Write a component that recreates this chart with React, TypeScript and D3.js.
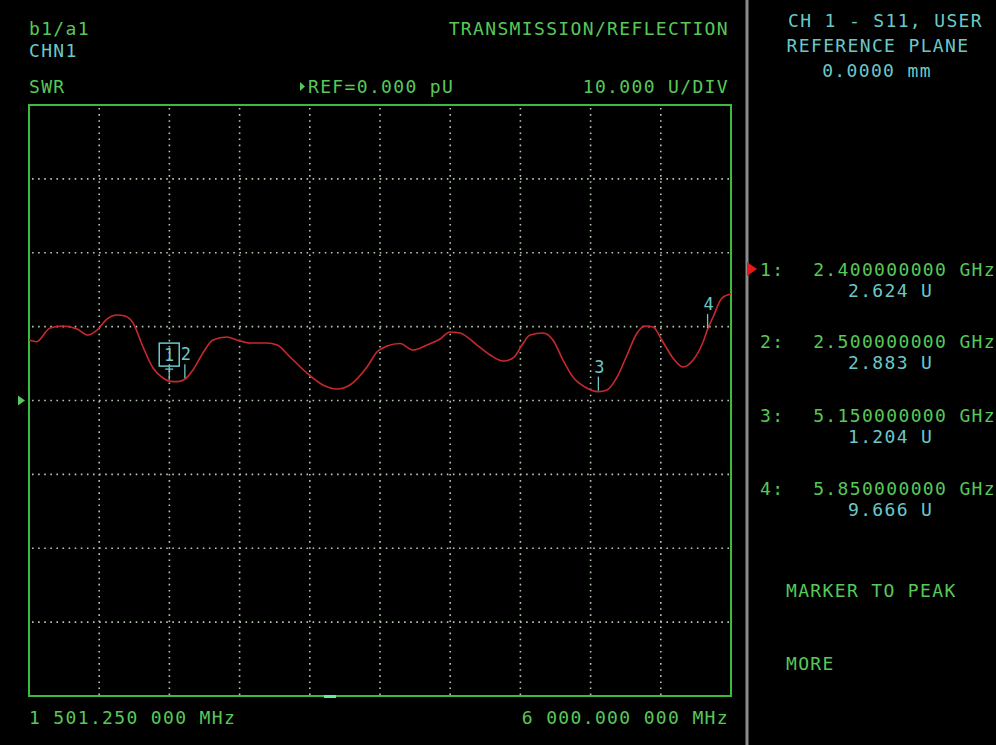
import React from "react";
import * as d3 from "d3";

// ---- data ----
const freqMHz = [
  1501.25, 1550, 1636, 1719, 1809, 1879, 1937, 2001, 2065, 2116, 2168, 2232, 2296, 2360, 2400, 2450, 2500,
  2552, 2616, 2680, 2770, 2834, 2918, 3026, 3091, 3174, 3283, 3385, 3475, 3558, 3667, 3731, 3795, 3879,
  3962, 4052, 4135, 4199, 4263, 4372, 4456, 4539, 4603, 4661, 4712, 4795, 4859, 4923, 4987, 5064, 5150,
  5206, 5270, 5334, 5398, 5449, 5500, 5564, 5628, 5692, 5757, 5821, 5850, 5885, 5942, 6000,
];
const swrU = [
  8.19, 7.96, 9.81, 10.08, 9.68, 8.86, 9.54, 11.03, 11.57, 11.43, 10.49, 7.24, 4.4, 3.05, 2.624, 2.55, 2.883,
  4.13, 6.43, 8.19, 8.59, 8.19, 7.78, 7.78, 7.51, 5.89, 3.72, 2.1, 1.56, 2.1, 4.53, 6.56, 7.37, 7.71,
  6.83, 7.51, 8.32, 9.27, 9.13, 7.51, 6.16, 5.35, 5.75, 7.51, 8.86, 9.13, 8.19, 5.48, 3.18, 1.83, 1.204,
  1.42, 3.18, 6.16, 9.13, 10.08, 9.95, 7.92, 5.75, 4.53, 5.48, 7.92, 9.666, 11.3, 13.87, 14.41,
];
const markerIds = ["1", "2", "3", "4"];
const markerFreqMHz = [2400, 2500, 5150, 5850];
const markerValues = [2.624, 2.883, 1.204, 9.666];
const markerFreqLabels = ["2.400000000 GHz", "2.500000000 GHz", "5.150000000 GHz", "5.850000000 GHz"];
const markerValueLabels = ["2.624 U", "2.883 U", "1.204 U", "9.666 U"];
const startFreqMHz = 1501.25;
const stopFreqMHz = 6000;
const startLabel = "1 501.250 000 MHz";
const stopLabel = "6 000.000 000 MHz";
const refValue = 0;
const unitsPerDiv = 10;
const xDivisions = 10;
const yDivisions = 8;

const GREEN = "#58c858";
const CYAN = "#6cc8c8";
const FRAME = "#3cbc3c";
const RED = "#c8282c";
const DOT = "#b4c8b0";
const FONT = "'DejaVu Sans Mono', monospace";

export default function App() {
  const L = 29, R = 731, T = 105, B = 696;
  const x = d3.scaleLinear().domain([startFreqMHz, stopFreqMHz]).range([L, R]);
  const half = (yDivisions / 2) * unitsPerDiv;
  const y = d3.scaleLinear().domain([refValue - half, refValue + half]).range([B, T]);
  const xDiv = d3.scaleLinear().domain([0, xDivisions]).range([L, R]);
  const yTicks = d3.range(refValue - half + unitsPerDiv, refValue + half, unitsPerDiv);
  const xGrid = d3.range(1, xDivisions).map((i) => xDiv(i));

  const pts = freqMHz.map((f, i) => [f, swrU[i]] as [number, number]);
  const line = d3
    .line<[number, number]>()
    .x((d) => x(d[0]))
    .y((d) => y(d[1]))
    .curve(d3.curveMonotoneX);

  const txt = (s: string, tx: number, ty: number, fill: string, anchor: string = "start", size = 18) => (
    <text x={tx} y={ty} fill={fill} fontFamily={FONT} fontSize={size} textAnchor={anchor} letterSpacing={1.35}>
      {s}
    </text>
  );

  const ry = y(refValue);
  const rowY = [276, 348, 422, 495];

  return (
    <div style={{ position: "absolute", left: 0, top: 0 }}>
      <svg width={996} height={745} style={{ display: "block", background: "#000" }}>
        <rect x={0} y={0} width={996} height={745} fill="#000" />
        <defs>
          <clipPath id="plotclip">
            <rect x={L} y={T} width={R - L} height={B - T} />
          </clipPath>
        </defs>
        {/* grid */}
        {xGrid.map((gx, i) => (
          <line key={"gx" + i} x1={gx} x2={gx} y1={T + 3} y2={B - 1} stroke={DOT} strokeWidth={1.6} strokeDasharray="1.6 4.5" />
        ))}
        {yTicks.map((v, i) => (
          <line key={"gy" + i} x1={L + 3} x2={R - 1} y1={y(v)} y2={y(v)} stroke={DOT} strokeWidth={1.6} strokeDasharray="1.6 4.5" />
        ))}
        {/* frame */}
        <rect x={L} y={T} width={R - L} height={B - T} fill="none" stroke={FRAME} strokeWidth={2} />
        <rect x={324} y={B - 1} width={12} height={3} fill="#5ef0a0" />
        {/* reference marker */}
        <path d={`M18,${ry - 5} L25,${ry} L18,${ry + 5} Z`} fill={GREEN} />
        {/* trace */}
        <path d={line(pts) || ""} fill="none" stroke={RED} strokeWidth={1.6} clipPath="url(#plotclip)" />
        {/* markers */}
        {markerFreqMHz.map((f, i) => {
          const mx = x(f);
          const my = y(markerValues[i]);
          if (i === 0) {
            return (
              <g key={"m" + i}>
                <rect x={mx - 10} y={my - 38} width={20} height={23} fill="none" stroke={CYAN} strokeWidth={1.5} />
                <text x={mx} y={my - 20} fill={CYAN} fontFamily={FONT} fontSize={17} textAnchor="middle">{markerIds[i]}</text>
                <line x1={mx - 4} x2={mx + 4} y1={my - 12} y2={my - 12} stroke={CYAN} strokeWidth={1.3} />
                <line x1={mx} x2={mx} y1={my - 15} y2={my - 1} stroke={CYAN} strokeWidth={1.3} />
              </g>
            );
          }
          return (
            <g key={"m" + i}>
              <text x={mx + 1} y={my - 19} fill={CYAN} fontFamily={FONT} fontSize={17} textAnchor="middle">{markerIds[i]}</text>
              <line x1={mx} x2={mx} y1={my - 15} y2={my - 1} stroke={CYAN} strokeWidth={1.3} />
            </g>
          );
        })}
        {/* header texts */}
        {txt("b1/a1", 29, 35, GREEN)}
        {txt("CHN1", 29, 57, CYAN)}
        {txt("SWR", 29, 93, GREEN)}
        <path d="M300,82 L305,86.5 L300,91 Z" fill={GREEN} />
        {txt("REF=0.000 pU", 308, 93, GREEN)}
        {txt("10.000 U/DIV", 729, 93, GREEN, "end")}
        {txt("TRANSMISSION/REFLECTION", 729, 35, GREEN, "end")}
        {txt(startLabel, 29, 724, GREEN)}
        {txt(stopLabel, 729, 724, GREEN, "end")}
        {/* separator */}
        <line x1={747} x2={747} y1={0} y2={745} stroke="#8a8a8a" strokeWidth={3} />
        {/* right panel */}
        {txt("CH 1 - S11, USER", 983, 27, CYAN, "end")}
        {txt("REFERENCE PLANE", 878, 52, CYAN, "middle")}
        {txt("0.0000 mm", 877, 77, CYAN, "middle")}
        <path d={`M747,${rowY[0] - 14} L757,${rowY[0] - 7} L747,${rowY[0]} Z`} fill="#e81818" />
        {markerIds.map((id, i) => (
          <g key={"r" + i}>
            {txt(id + ":", 760, rowY[i], GREEN)}
            {txt(markerFreqLabels[i], 996, rowY[i], GREEN, "end")}
            {txt(markerValueLabels[i], 848, rowY[i] + 21, CYAN)}
          </g>
        ))}
        {txt("MARKER TO PEAK", 786, 597, GREEN)}
        {txt("MORE", 786, 670, GREEN)}
      </svg>
    </div>
  );
}
